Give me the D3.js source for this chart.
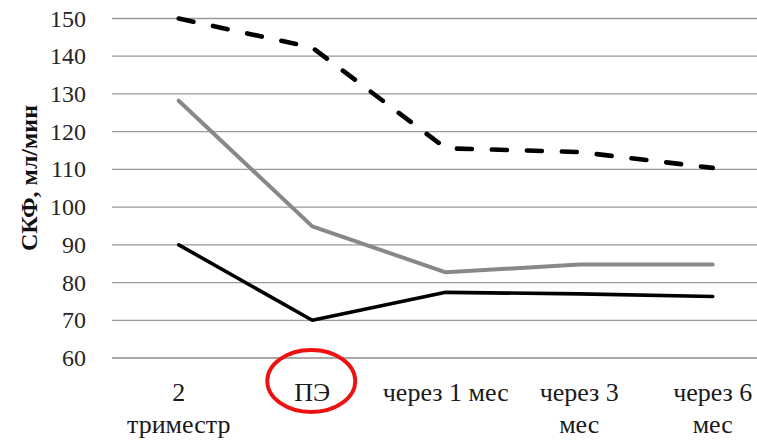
<!DOCTYPE html>
<html>
<head>
<meta charset="utf-8">
<script src="https://cdn.jsdelivr.net/npm/d3@7"></script>
<style>
html,body{margin:0;padding:0;background:#fff;}
svg{display:block;}
</style>
</head>
<body>
<svg id="chart" width="757" height="441" font-family="'Liberation Serif', 'DejaVu Serif', 'Times New Roman', serif"></svg>
<script>
const categories = ["2 триместр", "ПЭ", "через 1 мес", "через 3 мес", "через 6 мес"];
const categoryLines = [["2", "триместр"], ["ПЭ"], ["через 1 мес"], ["через 3", "мес"], ["через 6", "мес"]];
const seriesDashed = [150, 142.3, 115.6, 114.6, 110.4];
const seriesGray = [128.2, 94.9, 82.7, 84.8, 84.8];
const seriesBlack = [90, 70, 77.4, 77.0, 76.3];
const yTicks = [60, 70, 80, 90, 100, 110, 120, 130, 140, 150];
const yTitle = "СКФ, мл/мин";
const highlighted = "ПЭ";

const svg = d3.select("#chart");
const plotLeft = 112, plotRight = 779.5, plotTop = 18.5, plotBottom = 358;

const x = d3.scaleBand().domain(categories).range([plotLeft, plotRight]);
const y = d3.scaleLinear().domain([60, 150]).range([plotBottom, plotTop]);
const cx = c => x(c) + x.bandwidth() / 2;

// gridlines
svg.append("g").selectAll("line").data(yTicks).join("line")
  .attr("x1", plotLeft).attr("x2", 757)
  .attr("y1", d => y(d)).attr("y2", d => y(d))
  .attr("stroke", d => d === 60 ? "#8c8c8c" : "#9a9a9a")
  .attr("stroke-width", 1.3);

// y tick labels
svg.append("g").selectAll("text").data(yTicks).join("text")
  .attr("x", 86).attr("y", d => y(d))
  .attr("text-anchor", "end").attr("dominant-baseline", "central")
  .attr("font-size", 24).attr("fill", "#262626")
  .text(d => d);

// y title
svg.append("text")
  .attr("transform", "translate(37,178) rotate(-90)")
  .attr("text-anchor", "middle")
  .attr("font-size", 24).attr("font-weight", "bold").attr("fill", "#111")
  .text(yTitle);

// category labels
const cat = svg.append("g").selectAll("text").data(categories).join("text")
  .attr("text-anchor", "middle").attr("font-size", 26).attr("fill", "#1a1a1a");
cat.each(function(c, i) {
  const t = d3.select(this);
  categoryLines[i].forEach((ln, j) => {
    t.append("tspan").attr("x", cx(c)).attr("y", 401 + j * 32).text(ln);
  });
});

// highlight ellipse
svg.append("ellipse")
  .attr("cx", cx(highlighted) - 1).attr("cy", 381)
  .attr("rx", 44).attr("ry", 31)
  .attr("fill", "none").attr("stroke", "#ee1111").attr("stroke-width", 3.8);

const line = d3.line().x((d, i) => cx(categories[i])).y(d => y(d));

svg.append("path").datum(seriesBlack).attr("d", line)
  .attr("fill", "none").attr("stroke", "#000").attr("stroke-width", 3.6)
  .attr("stroke-linejoin", "round").attr("stroke-linecap", "round");

svg.append("path").datum(seriesGray).attr("d", line)
  .attr("fill", "none").attr("stroke", "#888888").attr("stroke-width", 4)
  .attr("stroke-linejoin", "round").attr("stroke-linecap", "round");

svg.append("path").datum(seriesDashed).attr("d", line)
  .attr("fill", "none").attr("stroke", "#000").attr("stroke-width", 4.6)
  .attr("stroke-dasharray", "15,20").attr("stroke-linecap", "round")
  .attr("stroke-linejoin", "round");
</script>
</body>
</html>
